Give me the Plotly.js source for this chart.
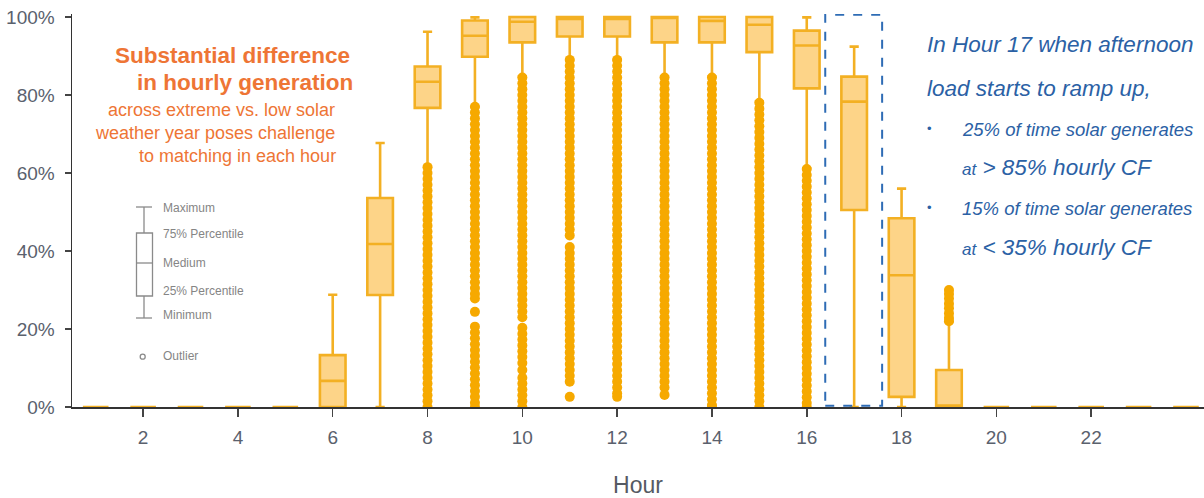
<!DOCTYPE html>
<html>
<head>
<meta charset="utf-8">
<script src="https://cdn.plot.ly/plotly-3.0.1.min.js"></script>
<style>
  html, body { margin: 0; padding: 0; background: #ffffff; }
  #chart { width: 1204px; height: 498px; }
</style>
</head>
<body>
<div id="chart"></div>
<script>
// ---------------- DATA (hourly solar capacity factor, %) ----------------
const hours = [1,2,3,4,5,6,7,8,9,10,11,12,13,14,15,16,17,18,19,20,21,22,23,24];
const lowerFence = [0,0,0,0,0, 0,   0, 61.6, 77,  84.7, 89,  89,  84.7, 84.7, 78.3, 61.2, 0,    0,    0,    0,0,0,0,0];
const q1Values   = [0,0,0,0,0, 0, 28.7, 76.7, 89.8, 93.5, 95,  95,  93.5, 93.5, 91,   81.7, 50.5, 2.6,  0,    0,0,0,0,0];
const medians    = [0,0,0,0,0, 6.7,41.8,83.4, 95.2, 98.8, 99.5,99.5,99.8, 99,   98,   92.7, 78.3, 33.8, 0.4,  0,0,0,0,0];
const q3Values   = [0,0,0,0,0,13.3,53.6,87.3, 99.1, 100,  100, 100, 100,  100,  100,  96.5, 84.7, 48.4, 9.5,  0,0,0,0,0];
const upperFence = [0,0,0,0,0,28.8,67.7,96.2, 99.9, 100,  100, 100, 100,  100,  100,  99.9, 92.4, 56,   21.9, 0,0,0,0,0];

// Outliers (dense columns of points)
const outliers8  = [61.5,60,58.5,57,55.5,54,52.5,51,49.5,48,46.5,45,43.5,42,40.5,39,37.5,36,34.5,33,31.5,30,28.5,27,25.5,24,22.5,21,19.5,18,16.5,15,13.5,12,10.5,9,7.5,6,4.5,3,1.5,0];
const outliers9  = [77,75.5,74,72.5,71,69.5,68,66.5,65,63.5,62,60.5,59,57.5,56,54.5,53,51.5,50,48.5,47,45.5,44,42.5,41,39.5,38,36.5,35,33.5,32,30.5,29,27.8,24.4,20.6,19.1,17.6,16.1,14.6,13.1,11.6,10.1,8.6,7.1,5.6,4.1,2.6,1.1,0];
const outliers10 = [84.5,83,81.5,80,78.5,77,75.5,74,72.5,71,69.5,68,66.5,65,63.5,62,60.5,59,57.5,56,54.5,53,51.5,50,48.5,47,45.5,44,42.5,41,39.5,38,36.5,35,33.5,32,30.5,29,27.5,26,24.5,23,20.3,18.8,17.3,15.8,14.3,12.8,11.3,9.5,7.5,6,4.5,3,1.5,0];
const outliers11 = [89,87.5,86,84.5,83,81.5,80,78.5,77,75.5,74,72.5,71,69.5,68,66.5,65,63.5,62,60.5,59,57.5,56,54.5,53,51.5,50,48.5,47,45.5,44,41,39.5,38,36.5,35,33.5,32,30.5,29,27.5,26,24.5,23,21.5,20,18.5,17,15.5,14,12.5,11,9.5,8,6.5,2.6];
const outliers12 = [89,87.5,86,84.5,83,81.5,80,78.5,77,75.5,74,72.5,71,69.5,68,66.5,65,63.5,62,60.5,59,57.5,56,54.5,53,51.5,50,48.5,47,45.5,44,42.5,41,39.5,38,36.5,35,33.5,32,30.5,29,27.5,26,24.5,23,21.5,20,18.5,17,15.5,14,12.5,11,9.5,8,6.5,5,3.5,2.6];
const outliers13 = [84.5,83,81.5,80,78.5,77,75.5,74,72.5,71,69.5,68,66.5,65,63.5,62,60.5,59,57.5,56,54.5,53,51.5,50,48.5,47,45.5,44,42.5,41,39.5,38,36.5,35,33.5,32,30.5,29,27.5,26,24.5,23,21.5,20,18.5,17,15.5,14,12.5,11,9.5,8,6.5,5,3.1];
const outliers14 = [84.5,83,81.5,80,78.5,77,75.5,74,72.5,71,69.5,68,66.5,65,63.5,62,60.5,59,57.5,56,54.5,53,51.5,50,48.5,47,45.5,44,42.5,41,39.5,38,36.5,35,33.5,32,30.5,29,27.5,26,24.5,23,21.5,20,18.5,17,15.5,14,12.5,11,9.5,8,6.5,5,3.5,2,0.5,0];
const outliers15 = [78,76.5,75,73.5,72,70.5,69,67.5,66,64.5,63,61.5,60,58.5,57,55.5,54,52.5,51,49.5,48,46.5,45,43.5,42,40.5,39,37.5,36,34.5,33,31.5,30,28.5,27,25.5,24,22.5,21,19.5,18,16.5,15,13.5,12,10.5,9,7.5,6,4.5,3,1.5,0];
const outliers16 = [61,59.5,58,56.5,55,53.5,52,50.5,49,47.5,46,44.5,43,41.5,40,38.5,37,35.5,34,32.5,31,29.5,28,26.5,25,23.5,22,20.5,19,17.5,16,14.5,13,11.5,10,8.5,7,5.5,4,2.5,1,0];
const outliers19 = [30,29,27.8,26.5,25.3,24,22.8,22];
const outlierHours = [8,9,10,11,12,13,14,15,16,19];
const outlierSets  = [outliers8,outliers9,outliers10,outliers11,outliers12,outliers13,outliers14,outliers15,outliers16,outliers19];

const xTickVals = [2,4,6,8,10,12,14,16,18,20,22];
const yTickVals = [0,20,40,60,80,100];
const yTickText = ['0%','20%','40%','60%','80%','100%'];
const highlightHour = 17;

// ---------------- BUILD ----------------
const outX = [], outY = [];
outlierHours.forEach((h, i) => {
  outlierSets[i].forEach(v => { outX.push(h); outY.push(v); });
});

const boxTrace = {
  type: 'box',
  orientation: 'v',
  x: hours,
  q1: q1Values,
  median: medians,
  q3: q3Values,
  lowerfence: lowerFence,
  upperfence: upperFence,
  boxpoints: false,
  width: 0.54,
  whiskerwidth: 0.36,
  line: { color: '#F3B023', width: 2.6 },
  fillcolor: '#FDD488',
  hoverinfo: 'skip',
  showlegend: false
};

const outlierTrace = {
  type: 'scatter',
  mode: 'markers',
  x: outX,
  y: outY,
  marker: { size: 10, color: '#F6A900', line: { width: 0 } },
  hoverinfo: 'skip',
  showlegend: false
};

// pixel -> paper helpers (plot area: x 72..1204, y 14..407)
const L = 72, R = 1204, T = 14, B = 407;
const px = x => (x - L) / (R - L);
const py = y => (B - y) / (B - T);

const FONT = '"Liberation Sans", Arial, sans-serif';
const ORANGE = '#EE7535';
const BLUE = '#2B61A5';
const GREY = '#858585';

function ann(text, x, y, xanchor, size, color, extra) {
  return Object.assign({
    text: text, xref: 'paper', yref: 'paper', x: px(x), y: py(y),
    xanchor: xanchor, yanchor: 'middle', showarrow: false,
    font: { family: FONT, size: size, color: color }
  }, extra || {});
}

const annotations = [
  ann('<b>Substantial difference</b>', 352, 56, 'right', 22.5, ORANGE),
  ann('<b>in hourly generation</b>', 355, 82, 'right', 22.5, ORANGE),
  ann('across extreme vs. low solar', 337, 110, 'right', 18, ORANGE),
  ann('weather year poses challenge', 337, 133, 'right', 18, ORANGE),
  ann('to matching in each hour', 338, 156, 'right', 18, ORANGE),

  ann('<i>In Hour 17 when afternoon</i>', 925, 45, 'left', 22.5, BLUE),
  ann('<i>load starts to ramp up,</i>', 925, 88, 'left', 22.5, BLUE),
  ann('•', 925, 128, 'left', 13, BLUE),
  ann('<i>25% of time solar generates</i>', 960, 129, 'left', 18.5, BLUE),
  ann('<i><span style="font-size:17px">at</span> &gt; 85% hourly CF</i>', 960, 168, 'left', 22.5, BLUE),
  ann('•', 925, 207, 'left', 13, BLUE),
  ann('<i>15% of time solar generates</i>', 960, 208, 'left', 18.5, BLUE),
  ann('<i><span style="font-size:17px">at</span> &lt; 35% hourly CF</i>', 960, 247, 'left', 22.5, BLUE),

  ann('Maximum', 161, 208, 'left', 12, GREY),
  ann('75% Percentile', 161, 234, 'left', 12, GREY),
  ann('Medium', 161, 263, 'left', 12, GREY),
  ann('25% Percentile', 161, 291, 'left', 12, GREY),
  ann('Minimum', 161, 315, 'left', 12, GREY),
  ann('Outlier', 161, 356, 'left', 12, GREY)
];

const keyLine = { color: '#8a8a8a', width: 1.3 };
function pshape(type, x0, y0, x1, y1, line, fill) {
  return { type: type, xref: 'paper', yref: 'paper', x0: px(x0), y0: py(y0), x1: px(x1), y1: py(y1),
           line: line, fillcolor: fill || 'rgba(0,0,0,0)', layer: 'above' };
}
const shapes = [
  pshape('line', 136, 207, 152, 207, keyLine),
  pshape('line', 144, 207, 144, 233, keyLine),
  pshape('rect', 136.5, 233, 152.5, 296, keyLine),
  pshape('line', 136.5, 263, 152.5, 263, keyLine),
  pshape('line', 144, 296, 144, 318, keyLine),
  pshape('line', 136, 318, 152, 318, keyLine),
  pshape('circle', 140.2, 354.2, 145.2, 359.2, keyLine),
  {
    type: 'rect', xref: 'x', yref: 'y',
    x0: highlightHour - 0.61, x1: highlightHour + 0.59, y0: 0.3, y1: 100.6,
    line: { color: '#2E6CB5', width: 2, dash: 'dash' }, fillcolor: 'rgba(0,0,0,0)', layer: 'above'
  }
];

const layout = {
  width: 1204, height: 498,
  margin: { l: 72, r: 0, t: 14, b: 91, pad: 0 },
  paper_bgcolor: '#ffffff', plot_bgcolor: '#ffffff',
  showlegend: false,
  font: { family: FONT },
  xaxis: {
    range: [0.5, 24.38],
    tickvals: xTickVals,
    ticks: 'outside', ticklen: 8, tickwidth: 1.5, tickcolor: '#444',
    ticklabelstandoff: 5,
    showline: true, linecolor: '#333', linewidth: 1.5,
    showgrid: false, zeroline: false,
    tickfont: { family: FONT, size: 19, color: '#5a616d' },
    title: { text: 'Hour', font: { family: FONT, size: 23, color: '#555a63' }, standoff: 30 }
  },
  yaxis: {
    range: [0, 100.77],
    tickvals: yTickVals, ticktext: yTickText,
    ticks: 'outside', ticklen: 6, tickwidth: 1.5, tickcolor: '#444',
    ticklabelstandoff: 6,
    showline: true, linecolor: '#333', linewidth: 1.5,
    showgrid: false, zeroline: false,
    tickfont: { family: FONT, size: 19, color: '#5a616d' }
  },
  annotations: annotations,
  shapes: shapes
};

Plotly.newPlot('chart', [boxTrace, outlierTrace], layout, { displayModeBar: false, staticPlot: true });
</script>
</body>
</html>
